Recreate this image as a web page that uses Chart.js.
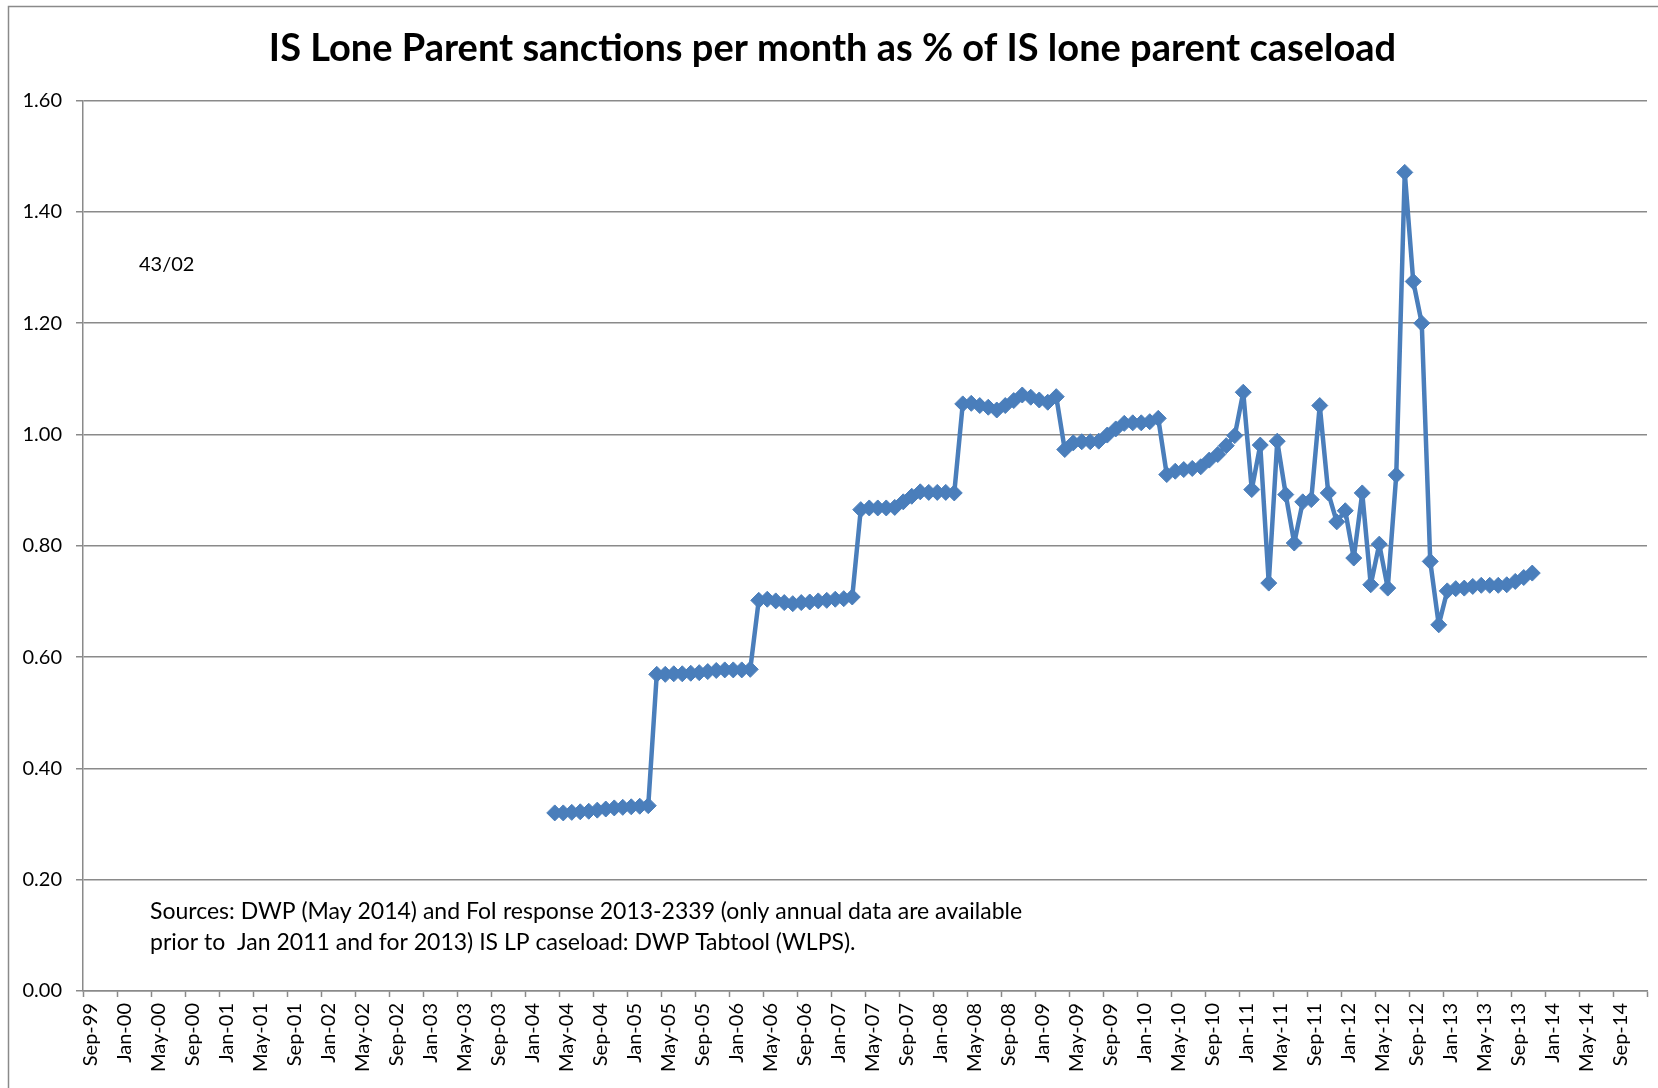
<!DOCTYPE html>
<html>
<head>
<meta charset="utf-8">
<title>IS Lone Parent sanctions</title>
<script src="https://cdn.jsdelivr.net/npm/chart.js@4.4.1/dist/chart.umd.min.js"></script>
<style>
  html, body { margin: 0; padding: 0; background: #ffffff; }
  #wrap { width: 1658px; height: 1088px; position: relative; }
</style>
</head>
<body>
<div id="wrap"><canvas id="chart"></canvas></div>
<script>
// x axis runs monthly from Sep-99 to Dec-14
const monthNames = ['Jan', 'Feb', 'Mar', 'Apr', 'May', 'Jun', 'Jul', 'Aug', 'Sep', 'Oct', 'Nov', 'Dec'];
const axisStartYear = 1999;
const axisStartMonth = 8;      // Sep
const axisMonthCount = 184;    // Sep-99 .. Dec-14
const labelEvery = 4;          // Sep, Jan, May

// series starts at Apr-04, one value per month up to Nov-13
const seriesStart = 'Apr-04';
const sanctionsPct = [
    // Apr-04 .. Mar-05
    0.320, 0.320, 0.321, 0.322, 0.323, 0.325, 0.327, 0.329, 0.330, 0.331, 0.332, 0.333,
    // Apr-05 .. Mar-06
    0.569, 0.569, 0.570, 0.570, 0.571, 0.572, 0.574, 0.576, 0.577, 0.577, 0.577, 0.578,
    // Apr-06 .. Mar-07
    0.702, 0.704, 0.701, 0.698, 0.696, 0.698, 0.699, 0.701, 0.702, 0.704, 0.705, 0.708,
    // Apr-07 .. Mar-08
    0.865, 0.868, 0.868, 0.868, 0.869, 0.879, 0.889, 0.897, 0.896, 0.896, 0.896, 0.895,
    // Apr-08 .. Mar-09
    1.055, 1.056, 1.052, 1.049, 1.044, 1.052, 1.061, 1.071, 1.067, 1.062, 1.058, 1.068,
    // Apr-09 .. Mar-10
    0.973, 0.985, 0.987, 0.987, 0.988, 0.999, 1.010, 1.020, 1.021, 1.021, 1.023, 1.029,
    // Apr-10 .. Dec-10
    0.928, 0.934, 0.937, 0.939, 0.942, 0.954, 0.964, 0.980, 0.998,
    // Jan-11 .. Dec-11
    1.076, 0.901, 0.981, 0.733, 0.988, 0.892, 0.805, 0.879, 0.883, 1.052, 0.895, 0.843,
    // Jan-12 .. Dec-12
    0.863, 0.778, 0.895, 0.730, 0.803, 0.724, 0.927, 1.471, 1.275, 1.200, 0.772, 0.658,
    // Jan-13 .. Nov-13
    0.719, 0.723, 0.724, 0.727, 0.729, 0.729, 0.729, 0.730, 0.736, 0.743, 0.751
];

const yTicks = [0, 0.2, 0.4, 0.6, 0.8, 1.0, 1.2, 1.4, 1.6];

const titleText = 'IS Lone Parent sanctions per month as % of IS lone parent caseload';
const noteText = '43/02';
const sourceLines = [
    'Sources: DWP (May 2014) and FoI response 2013-2339 (only annual data are available',
    'prior to  Jan 2011 and for 2013) IS LP caseload: DWP Tabtool (WLPS).'
];

const gridGray = '#8a8a8a';
const lineBlue = '#4a7ebb';
const fontFamily = 'Lato, "Open Sans", sans-serif';

// build month labels
const monthLabels = [];
for (let i = 0; i < axisMonthCount; i++) {
    const m = (axisStartMonth + i) % 12;
    const y = axisStartYear + Math.floor((axisStartMonth + i) / 12);
    monthLabels.push(monthNames[m] + '-' + String(y % 100).padStart(2, '0'));
}

// place the series on the month axis
const startIdx = monthLabels.indexOf(seriesStart);
const seriesData = monthLabels.map(function (lab, i) {
    const k = i - startIdx;
    return (k >= 0 && k < sanctionsPct.length) ? sanctionsPct[k] : null;
});

// white page, outer frame and free text
const decorations = {
    id: 'decorations',
    beforeDraw(chart) {
        const ctx = chart.ctx;
        ctx.save();
        ctx.fillStyle = '#ffffff';
        ctx.fillRect(0, 0, chart.width, chart.height);
        ctx.strokeStyle = gridGray;
        ctx.lineWidth = 1.5;
        ctx.strokeRect(8.5, 6.5, chart.width + 20, chart.height + 20);
        ctx.restore();
    },
    afterDraw(chart) {
        const ctx = chart.ctx;
        const area = chart.chartArea;
        ctx.save();
        ctx.fillStyle = '#000000';
        ctx.textBaseline = 'middle';
        ctx.textAlign = 'left';
        ctx.font = '20px ' + fontFamily;
        ctx.fillText(noteText, area.left + 56, 265);
        ctx.font = '23px ' + fontFamily;
        ctx.fillText(sourceLines[0], area.left + 67, 912);
        ctx.fillText(sourceLines[1], area.left + 67, 943);
        ctx.restore();
    }
};

const data = {
    labels: monthLabels,
    datasets: [{
        label: 'IS lone parent sanctions %',
        data: seriesData,
        borderColor: lineBlue,
        backgroundColor: lineBlue,
        borderWidth: 4.5,
        borderJoinStyle: 'round',
        borderCapStyle: 'round',
        pointStyle: 'rectRot',
        pointRadius: 8,
        pointBorderWidth: 1,
        pointBorderColor: lineBlue,
        pointBackgroundColor: lineBlue,
        spanGaps: false,
        tension: 0
    }]
};

const config = {
    type: 'line',
    data: data,
    options: {
        responsive: true,
        maintainAspectRatio: false,
        animation: false,
        layout: {
            padding: { left: 18, right: 11, top: 0, bottom: 0 }
        },
        plugins: {
            legend: { display: false },
            tooltip: { enabled: false },
            title: {
                display: true,
                text: titleText,
                color: '#000000',
                font: { family: fontFamily, size: 38, weight: 'bold', lineHeight: 1.2 },
                padding: { top: 26, bottom: 29 }
            }
        },
        scales: {
            x: {
                type: 'category',
                offset: true,
                border: { display: true, color: gridGray, width: 1.5 },
                grid: {
                    offset: true,
                    drawOnChartArea: false,
                    drawTicks: true,
                    tickLength: 6,
                    tickWidth: 1.5,
                    tickColor: function (ctx) {
                        return (ctx.index === undefined || ctx.index % labelEvery === 0) ? gridGray : 'rgba(0,0,0,0)';
                    }
                },
                ticks: {
                    autoSkip: false,
                    minRotation: 90,
                    maxRotation: 90,
                    padding: 6,
                    labelOffset: 3,
                    color: '#000000',
                    font: { family: fontFamily, size: 20 },
                    callback: function (val, i) {
                        return i % labelEvery === 0 ? this.getLabelForValue(val) : '';
                    }
                },
                afterFit: function (scale) {
                    scale.height = 97;
                    scale.paddingLeft = 0;
                    scale.paddingRight = 0;
                }
            },
            y: {
                min: 0,
                max: 1.6,
                border: { display: true, color: gridGray, width: 1.5 },
                grid: {
                    color: gridGray,
                    lineWidth: 1.5,
                    tickLength: 7
                },
                afterBuildTicks: function (scale) {
                    scale.ticks = yTicks.map(function (v) { return { value: v }; });
                },
                ticks: {
                    padding: 14,
                    color: '#000000',
                    font: { family: fontFamily, size: 20 },
                    callback: function (v) { return Number(v).toFixed(2); }
                },
                afterFit: function (scale) { scale.width = 65; }
            }
        }
    },
    plugins: [decorations]
};

new Chart(
    document.getElementById('chart'),
    config
);
</script>
</body>
</html>
